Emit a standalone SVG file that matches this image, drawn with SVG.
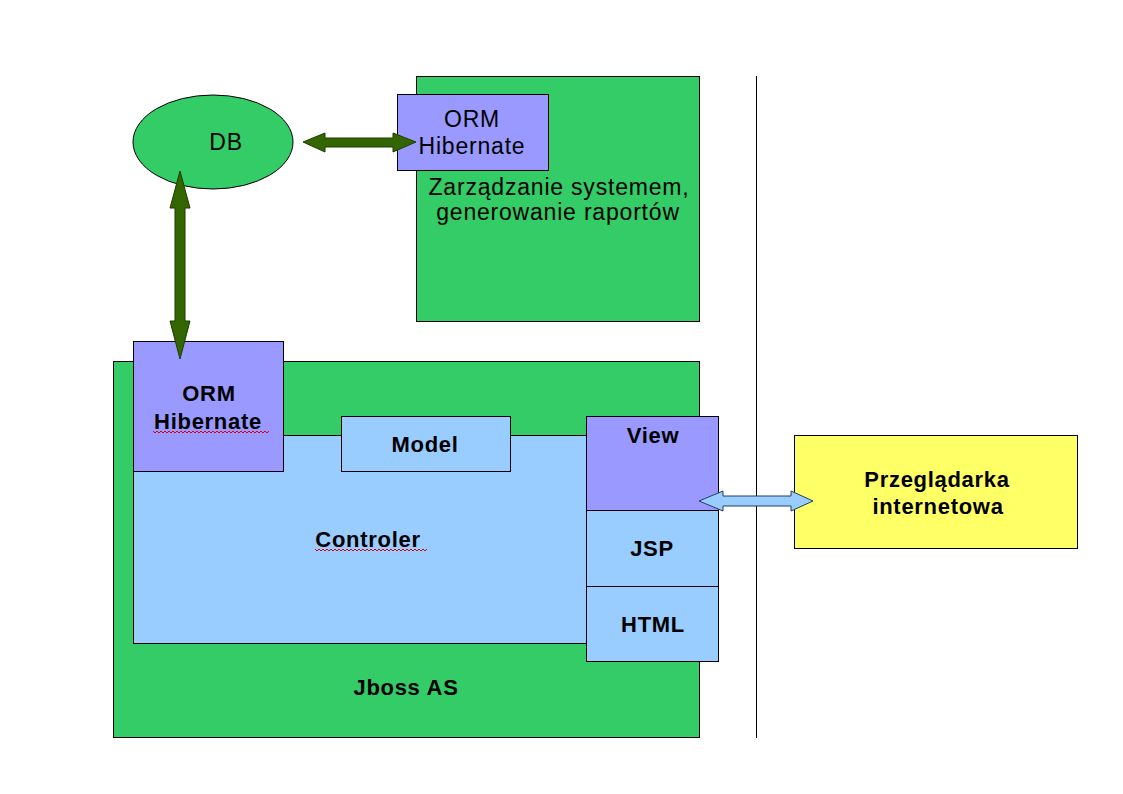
<svg xmlns="http://www.w3.org/2000/svg" width="1123" height="794" viewBox="0 0 1123 794">
<style>
.box{stroke:#000;stroke-width:1}
.green{fill:#33CC66}
.purple{fill:#9999FF}
.lblue{fill:#99CCFF}
.yellow{fill:#FFFF66}
.t{font-family:"Liberation Sans",Arial,sans-serif;font-size:23px;text-anchor:middle;fill:#000;letter-spacing:0.8px}
.b{font-weight:bold;font-size:22px;letter-spacing:0.7px}
.arr{fill:#336600;stroke:#1E3D00;stroke-width:1}
.arrl{fill:#99CCFF;stroke:#1F3F5F;stroke-width:1}
.sq{fill:none;stroke:#E00000;stroke-width:1}
</style>
<rect width="1123" height="794" fill="#fff"/>
<g id="mgmt">
<rect class="box green" x="416.5" y="76.5" width="283" height="245"/>
<text class="t" x="559" y="195">Zarządzanie systemem,</text>
<text class="t" x="558" y="220">generowanie raportów</text>
</g>
<g id="orm-top">
<rect class="box purple" x="397.5" y="94.5" width="151" height="76"/>
<text class="t" x="472" y="127">ORM</text>
<text class="t" x="472" y="154">Hibernate</text>
</g>
<g id="db">
<ellipse class="box green" cx="213" cy="142" rx="80" ry="47"/>
<text class="t" x="226" y="150">DB</text>
</g>
<g id="jboss">
<rect class="box green" x="113.5" y="361.5" width="586" height="376"/>
<text class="t b" x="406" y="695">Jboss AS</text>
</g>
<g id="controler">
<rect class="box lblue" x="133.5" y="435.5" width="453" height="208"/>
<text class="t b" x="368" y="547">Controler</text>
<path class="sq" d="M315 549 l2 2 l2 -2 l2 2 l2 -2 l2 2 l2 -2 l2 2 l2 -2 l2 2 l2 -2 l2 2 l2 -2 l2 2 l2 -2 l2 2 l2 -2 l2 2 l2 -2 l2 2 l2 -2 l2 2 l2 -2 l2 2 l2 -2 l2 2 l2 -2 l2 2 l2 -2 l2 2 l2 -2 l2 2 l2 -2 l2 2 l2 -2 l2 2 l2 -2 l2 2 l2 -2 l2 2 l2 -2 l2 2 l2 -2 l2 2 l2 -2 l2 2 l2 -2 l2 2 l2 -2 l2 2 l2 -2 l2 2 l2 -2 l2 2 l2 -2 l2 2 l2 -2"/>
</g>
<g id="orm-app">
<rect class="box purple" x="133.5" y="341.5" width="150" height="130"/>
<text class="t b" x="209" y="401">ORM</text>
<text class="t b" x="208" y="429">Hibernate</text>
<path class="sq" d="M153 431 l2 2 l2 -2 l2 2 l2 -2 l2 2 l2 -2 l2 2 l2 -2 l2 2 l2 -2 l2 2 l2 -2 l2 2 l2 -2 l2 2 l2 -2 l2 2 l2 -2 l2 2 l2 -2 l2 2 l2 -2 l2 2 l2 -2 l2 2 l2 -2 l2 2 l2 -2 l2 2 l2 -2 l2 2 l2 -2 l2 2 l2 -2 l2 2 l2 -2 l2 2 l2 -2 l2 2 l2 -2 l2 2 l2 -2 l2 2 l2 -2 l2 2 l2 -2 l2 2 l2 -2 l2 2 l2 -2 l2 2 l2 -2 l2 2 l2 -2 l2 2 l2 -2 l2 2 l2 -2"/>
</g>
<g id="model">
<rect class="box lblue" x="341.5" y="416.5" width="169" height="55"/>
<text class="t b" x="425" y="452">Model</text>
</g>
<g id="view">
<rect class="box purple" x="586.5" y="416.5" width="132" height="94"/>
<text class="t b" x="653" y="443">View</text>
</g>
<g id="jsp">
<rect class="box lblue" x="586.5" y="510.5" width="132" height="76"/>
<text class="t b" x="652" y="556">JSP</text>
</g>
<g id="html">
<rect class="box lblue" x="586.5" y="586.5" width="132" height="75"/>
<text class="t b" x="653" y="632">HTML</text>
</g>
<g id="divider">
<line x1="756.5" y1="76" x2="756.5" y2="738" stroke="#000" stroke-width="1"/>
</g>
<g id="browser">
<rect class="box yellow" x="794.5" y="435.5" width="283" height="113"/>
<text class="t b" x="937" y="487">Przeglądarka</text>
<text class="t b" x="938" y="514">internetowa</text>
</g>
<g id="connectors">
<polygon class="arr" points="303,142 325,133 325,138 393,138 393,133 416,142 393,152 393,147 325,147 325,152"/>
<polygon class="arr" points="180,171 190,208 185,208 185,321 190,321 180,359 170,321 175,321 175,208 170,208"/>
<polygon class="arrl" points="699,501 723,491 723,496 791,496 791,491 813,501 791,511 791,506 723,506 723,511"/>
</g>
</svg>
